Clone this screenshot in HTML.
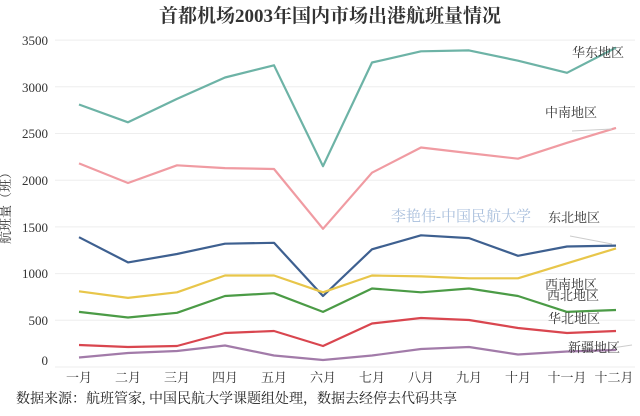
<!DOCTYPE html><html><head><meta charset="utf-8"><style>body{margin:0;background:#fff}svg{display:block}text{font-family:"Liberation Serif","Noto Serif CJK SC",serif}</style></head><body>
<svg width="640" height="416" viewBox="0 0 640 416">
<text x="330" y="22" text-anchor="middle" font-size="19" font-weight="bold" fill="#333">首都机场2003年国内市场出港航班量情况</text>
<g stroke="#eee" stroke-width="1">
<line x1="55" x2="635" y1="40.1" y2="40.1"/><line x1="55" x2="635" y1="86.8" y2="86.8"/><line x1="55" x2="635" y1="133.5" y2="133.5"/><line x1="55" x2="635" y1="180.2" y2="180.2"/><line x1="55" x2="635" y1="226.9" y2="226.9"/><line x1="55" x2="635" y1="273.6" y2="273.6"/><line x1="55" x2="635" y1="320.3" y2="320.3"/><line x1="55" x2="635" y1="367" y2="367"/></g>
<g font-size="13" fill="#333" text-anchor="end">
<text x="48" y="45">3500</text><text x="48" y="92">3000</text><text x="48" y="138">2500</text><text x="48" y="185">2000</text><text x="48" y="232">1500</text><text x="48" y="278">1000</text><text x="48" y="325">500</text><text x="48" y="365">0</text></g>
<text transform="translate(10,205) rotate(-90)" text-anchor="middle" font-size="13" fill="#333">航班量（班）</text>
<g font-size="13" fill="#333" text-anchor="middle">
<text x="79" y="382">一月</text><text x="128" y="382">二月</text><text x="177" y="382">三月</text><text x="225" y="382">四月</text><text x="274" y="382">五月</text><text x="323" y="382">六月</text><text x="372" y="382">七月</text><text x="421" y="382">八月</text><text x="469" y="382">九月</text><text x="518" y="382">十月</text><text x="567" y="382">十一月</text><text x="614" y="382">十二月</text></g>
<text x="16" y="403" font-size="14" fill="#222">数据来源：航班管家, 中国民航大学课题组处理，数据去经停去代码共享</text>
<g fill="none" stroke-width="2.2" stroke-linejoin="round">
<polyline stroke="#6db3a6" points="79,104.5 128,122.3 177,98.9 225,77.5 274,65.3 323,166.2 372,62.5 421,51.3 469,50.4 518,60.7 567,72.8 616,47.6"/>
<polyline stroke="#f09ba2" points="79,163.4 128,183 177,165.3 225,168.1 274,169 323,228.8 372,172.7 421,147.5 469,153.1 518,158.7 567,142.8 616,127.9"/>
<polyline stroke="#3e6090" points="79,237.2 128,262.4 177,254 225,243.7 274,242.8 323,296 372,249.3 421,235.3 469,238.1 518,255.8 567,246.5 616,245.6"/>
<polyline stroke="#e8c64a" points="79,291.3 128,297.9 177,292.3 225,275.5 274,275.5 323,292.3 372,275.5 421,276.4 469,278.3 518,278.3 567,263.3 616,248.4"/>
<polyline stroke="#4b9b46" points="79,311.9 128,317.5 177,312.8 225,296 274,293.2 323,311.9 372,288.5 421,292.3 469,288.5 518,296 567,311.9 616,310"/>
<polyline stroke="#d9464f" points="79,345 128,347 177,346 225,333 274,331 323,346 372,323.5 421,318 469,320 518,328 567,333 616,331"/>
<polyline stroke="#a27ba9" points="79,357.5 128,353 177,351 225,345.5 274,355.5 323,360 372,355.5 421,349 469,347 518,354.5 567,351.5 616,350"/>
</g>
<g stroke="#ccc" stroke-width="1"><line x1="570" y1="236" x2="612" y2="244"/><line x1="572" y1="131" x2="612" y2="129"/><line x1="612" y1="348" x2="632" y2="345"/></g>
<text x="391" y="221" font-size="15" fill="#a9bfdc">李艳伟-中国民航大学</text>
<g font-size="13" fill="#333">
<text x="572" y="57">华东地区</text><text x="545" y="117">中南地区</text><text x="548" y="222">东北地区</text><text x="545" y="289">西南地区</text><text x="547" y="300">西北地区</text><text x="548" y="323">华北地区</text><text x="568" y="352">新疆地区</text></g>
</svg></body></html>
